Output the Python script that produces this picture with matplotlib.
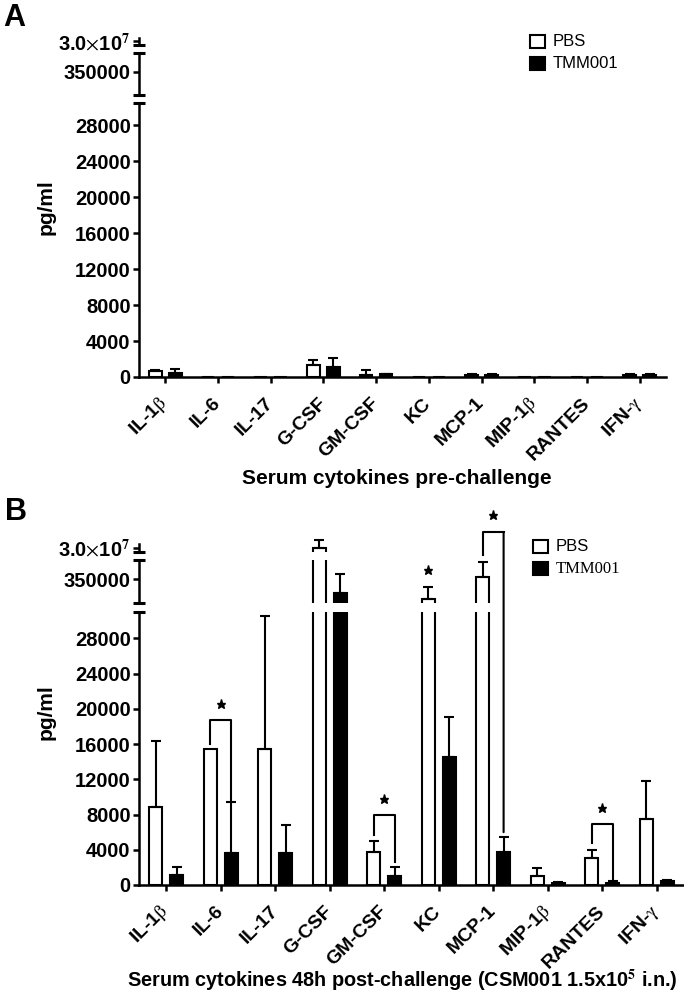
import numpy as np
import matplotlib
matplotlib.use("Agg")
import matplotlib.pyplot as plt
from matplotlib.patches import Rectangle, ConnectionPatch

plt.rcParams['font.family'] = ['Liberation Sans', 'DejaVu Sans']
plt.rcParams['mathtext.fontset'] = 'stix'

cytokines = [r"IL-1$\mathrm{\beta}$", "IL-6", "IL-17", "G-CSF", "GM-CSF", "KC",
             "MCP-1", r"MIP-1$\mathrm{\beta}$", "RANTES", r"IFN-$\mathrm{\gamma}$"]

# panel A: serum cytokines pre-challenge (pg/ml), mean and upper SD
pre_pbs = [700, 0, 0, 1380, 260, 0, 250, 0, 0, 250]
pre_pbs_err = [120, 0, 0, 560, 490, 0, 60, 0, 0, 60]
pre_tmm = [450, 0, 0, 1120, 300, 0, 250, 0, 0, 250]
pre_tmm_err = [400, 0, 0, 970, 60, 0, 60, 0, 0, 60]

# panel B: 48h post-challenge
post_pbs = [8880, 15420, 15420, 3.0e7, 3780, 304000, 356000, 1020, 3100, 7520]
post_pbs_err = [7480, 0, 15120, 1.0e6, 1210, 28000, 35000, 940, 830, 4280]
post_tmm = [1100, 3660, 3660, 318000, 1020, 14510, 3780, 260, 200, 450]
post_tmm_err = [900, 5790, 3140, 44000, 1060, 4540, 1660, 100, 250, 150]

# significance brackets in panel B (lower segment)
sig_idx = [1, 4, 8]
sig_top = [18700, 7900, 6900]
sig_left = [16000, 5700, 4750]
sig_right = [9600, 2600, 700]
sig_star = [20600, 9800, 8800]
# MCP-1 bracket crosses the axis break, KC has a star only
mcp_idx, mcp_left, mcp_top, mcp_right, mcp_star = 6, 406000, 460000, 6000, 500000
kc_idx, kc_star = 5, 372000

W, H = 684, 997
fig = plt.figure(figsize=(W / 100, H / 100), dpi=100)

bw = 0.24
off = 0.19
x = np.arange(len(cytokines))
LW = 1.8
FS = 14.5


def frac(left, top, right, bottom):
    return [left / W, 1 - bottom / H, (right - left) / W, (bottom - top) / H]


def draw_panel(rects, ylims, pbs, pbs_err, tmm, tmm_err):
    axes = []
    for i, (rect, yl) in enumerate(zip(rects, ylims)):
        ax = fig.add_axes(rect)
        ax.set_xlim(-0.5, 9.5)
        ax.set_ylim(yl)
        ax.patch.set_alpha(0)
        for s in ['top', 'right']:
            ax.spines[s].set_visible(False)
        ax.spines['left'].set_linewidth(LW)
        ax.tick_params(axis='y', direction='out', length=4, width=LW, pad=2)
        ax.bar(x - off, pbs, bw, color='white', edgecolor='black', linewidth=1.5, zorder=2)
        ax.bar(x + off, tmm, bw, color='black', edgecolor='black', linewidth=1.5, zorder=2)
        for xs, m, e in [(x - off, pbs, pbs_err), (x + off, tmm, tmm_err)]:
            for xi, mi, ei in zip(xs, m, e):
                if ei > 0 and yl[0] <= mi <= yl[1]:
                    ax.errorbar(xi, mi, yerr=[[0], [ei]], fmt='none', ecolor='black',
                                elinewidth=1.5, capsize=3.3, capthick=1.5,
                                clip_on=False, zorder=3)
        # break marks at the segment ends
        ends = {0: [1], 1: [0, 1], 2: [0]}[i]
        for e in ends:
            ax.plot(0, e, marker='_', ms=8, mew=2.2, color='black',
                    transform=ax.transAxes, clip_on=False)
        if i == 0:
            ax.spines['bottom'].set_linewidth(LW)
            ax.set_yticks(range(0, 28001, 4000))
            ax.set_yticklabels([str(v) for v in range(0, 28001, 4000)],
                               fontweight='bold', fontsize=FS)
            ax.set_xticks(x)
            ax.set_xticklabels(cytokines, rotation=45, ha='right', va='center',
                               rotation_mode='anchor', fontsize=14, fontweight='bold')
            ax.tick_params(axis='x', direction='out', length=4, width=LW, pad=13)
        else:
            ax.spines['bottom'].set_visible(False)
            ax.set_xticks([])
            if i == 1:
                ax.set_yticks([350000])
                ax.set_yticklabels(['350000'], fontweight='bold', fontsize=FS)
            else:
                ax.set_yticks([3.0e7])
                ax.set_yticklabels([r"3.0$\times$10$^{\mathbf{7}}$"],
                                   fontweight='bold', fontsize=FS)
        axes.append(ax)
    return axes


# ---- panel A ----
axA = draw_panel([frac(139, 103, 666, 377), frac(139, 53, 666, 95), frac(139, 38, 666, 45)],
                 [(0, 30500), (295000, 395000), (2.95e7, 3.05e7)],
                 pre_pbs, pre_pbs_err, pre_tmm, pre_tmm_err)

# ---- panel B ----
axB = draw_panel([frac(139, 612, 684, 885), frac(139, 560, 684, 603), frac(139, 544, 684, 552)],
                 [(0, 31000), (295000, 395000), (2.95e7, 3.05e7)],
                 post_pbs, post_pbs_err, post_tmm, post_tmm_err)

bot, mid = axB[0], axB[1]
for i, t, l, r, s in zip(sig_idx, sig_top, sig_left, sig_right, sig_star):
    bot.plot([i - off, i - off, i + off, i + off], [l, t, t, r], color='black', lw=1.5, zorder=4)
    bot.plot(i, s, marker='*', ms=6.5, color='black', clip_on=False)

mid.plot([mcp_idx - off, mcp_idx - off, mcp_idx + off], [mcp_left, mcp_top, mcp_top],
         color='black', lw=1.5, clip_on=False, zorder=4)
mid.plot(mcp_idx, mcp_star, marker='*', ms=6.5, color='black', clip_on=False)
con = ConnectionPatch(xyA=(mcp_idx + off, mcp_top), coordsA=mid.transData,
                      xyB=(mcp_idx + off, mcp_right), coordsB=bot.transData,
                      color='black', lw=1.5)
fig.add_artist(con)
mid.plot(kc_idx - off, kc_star, marker='*', ms=6.5, color='black', clip_on=False)

# labels
fig.text(397 / W, 1 - 478 / H, "Serum cytokines pre-challenge",
         ha='center', va='center', fontsize=15, fontweight='bold')
fig.text(402 / W, 1 - 980 / H,
         r"Serum cytokines 48h post-challenge (CSM001 1.5x10$^{\mathbf{5}}$ i.n.)",
         ha='center', va='center', fontsize=14.3, fontweight='bold')
for yc in [207, 712]:
    fig.text(46 / W, 1 - yc / H, "pg/ml", rotation=90, ha='center', va='center',
             fontsize=15, fontweight='bold')
fig.text(3 / W, 1 - 3 / H, "A", ha='left', va='top', fontsize=22, fontweight='bold')
fig.text(5 / W, 1 - 497 / H, "B", ha='left', va='top', fontsize=22, fontweight='bold')

# legends
for (bx, ytop, serif) in [(530, 35, False), (533, 540, True)]:
    for k, (lab, fc) in enumerate([("PBS", 'white'), ("TMM001", 'black')]):
        y0 = ytop + k * 22
        fig.add_artist(Rectangle((bx / W, 1 - (y0 + 13) / H), 15 / W, 13 / H,
                                 transform=fig.transFigure, facecolor=fc,
                                 edgecolor='black', linewidth=1.5))
        fam = ['Liberation Serif'] if (serif and k == 1) else ['Liberation Sans']
        fig.text((bx + 23) / W, 1 - (y0 + 6.5) / H, lab, ha='left', va='center',
                 fontsize=12, family=fam)

fig.savefig("out.png", dpi=100)
